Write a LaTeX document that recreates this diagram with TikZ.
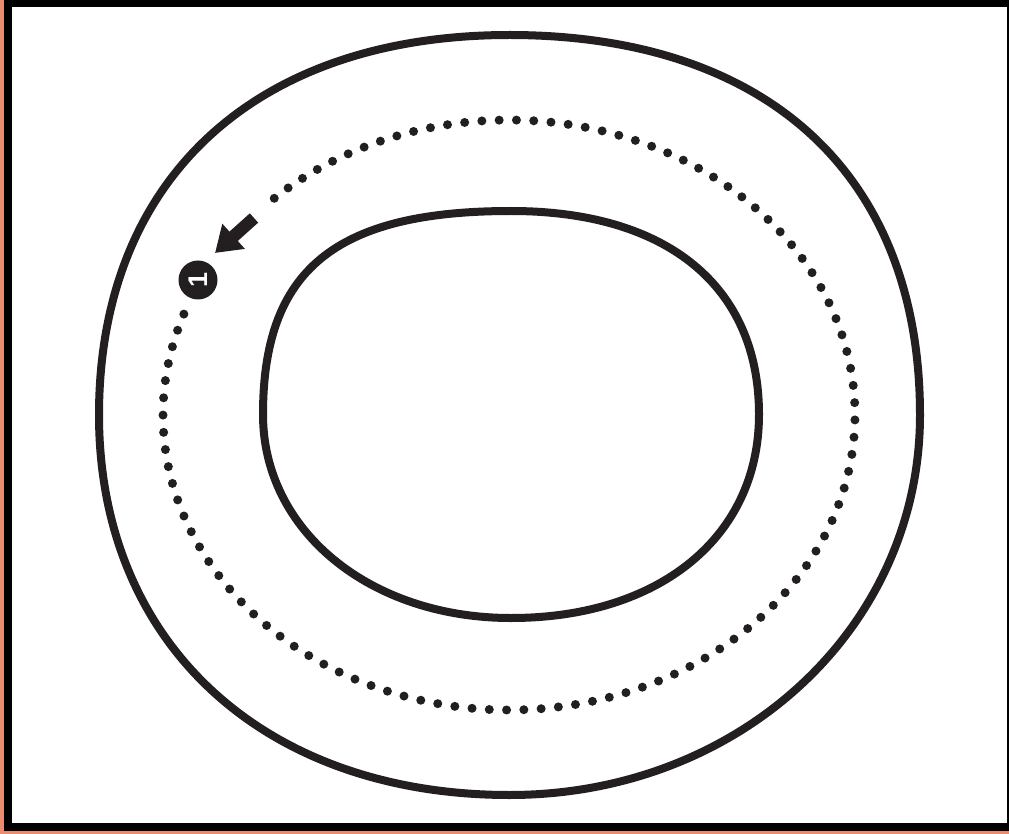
\documentclass[tikz,border=0pt]{standalone}
\usepackage{fontspec}
\setmainfont{Liberation Sans}
\usetikzlibrary{arrows.meta}
\definecolor{ink}{HTML}{231F20}
\definecolor{salmon}{RGB}{234,140,112}
\tikzset{
  ring/.style={draw=ink, line width=8pt, line join=round},
  dotring/.style={draw=ink, line width=9pt, line cap=round, dash pattern=on 0pt off 17.3pt},
  badge/.style={circle, fill=ink, minimum size=39pt, inner sep=0pt, text=white, font=\bfseries\fontsize{27}{27}\selectfont},
  bigarrow/.style={draw=ink, line width=12.5pt, -{Triangle[width=32pt,length=25pt]}}
}
\begin{document}
\begin{tikzpicture}[x=1pt,y=-1pt]
\useasboundingbox (0,0) rectangle (1009,834);
% frame
\fill[salmon] (0,0) rectangle (1009,834);
\fill[black] (3.5,0) rectangle (1009,831);
\fill[white] (11.5,7) rectangle (1006.5,823);
% outer ring: centre (509.5,415), left 99, right 920, top 35, bottom 795
\draw[ring] (509.5,35)
  .. controls ({509.5+0.63*410.5},35) and (920,{415-0.63*380}) .. (920,415)
  .. controls (920,{415+0.56*380}) and ({509.5+0.56*410.5},795) .. (509.5,795)
  .. controls ({509.5-0.60*410.5},795) and (99,{415+0.60*380}) .. (99,415)
  .. controls (99,{415-0.62*380}) and ({509.5-0.62*410.5},35) .. cycle;
% inner ring: centre (511,414.5), rx 248, ry 203.5
\draw[ring] (511,211)
  .. controls ({511+0.63*248},211) and (759,{414.5-0.63*203.5}) .. (759,414.5)
  .. controls (759,{414.5+0.60*203.5}) and ({511+0.60*248},618) .. (511,618)
  .. controls ({511-0.57*248},618) and (263,{414.5+0.57*203.5}) .. (263,414.5)
  .. controls (263,{414.5-0.71*203.5}) and ({511-0.71*248},211) .. cycle;
% dotted path
\draw[dotring] plot[domain=160:495, samples=300, variable=\t]
  ({509+346*cos(\t)}, {415-295*sin(\t)});
% badge
\node[badge, rotate=90] (one) at (198,280) {1};
% arrow
\coordinate (atail) at (254,218);
\coordinate (atip) at (215,253);
\draw[bigarrow] (atail) -- (atip);
\end{tikzpicture}
\end{document}
